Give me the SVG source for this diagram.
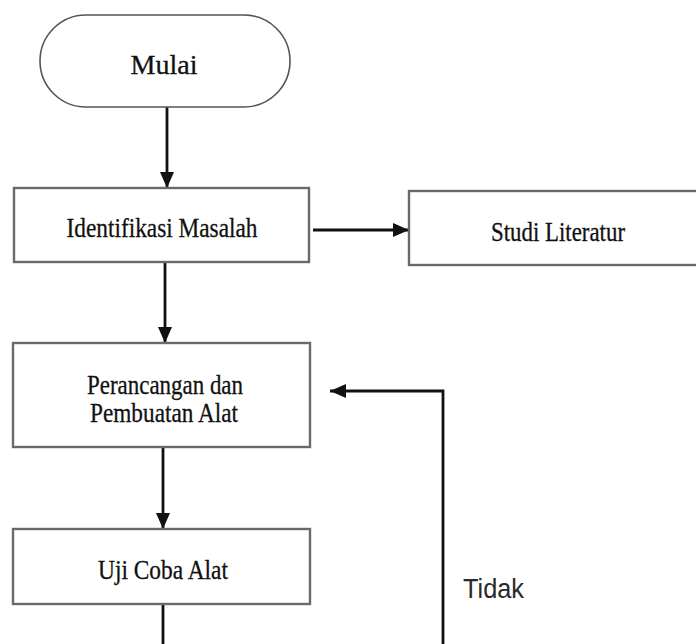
<svg xmlns="http://www.w3.org/2000/svg" width="696" height="644" viewBox="0 0 696 644">
<style>
.box{fill:#fff;stroke:#6a6a6a;stroke-width:2.4}
.term{fill:#fff;stroke:#555;stroke-width:1.6}
.t{font-family:"Liberation Serif","Times New Roman",serif;font-size:28px;fill:#111;stroke:#111;stroke-width:0.3;text-anchor:middle}
.lbl{font-family:"Liberation Sans",Arial,sans-serif;font-size:27px;fill:#2a2a2a}
.c{fill:none;stroke:#111;stroke-width:2.8}
</style>
<defs>
<marker id="ah" markerUnits="userSpaceOnUse" markerWidth="18" markerHeight="16" refX="16" refY="8" orient="auto">
<path d="M0,1 L16,8 L0,15 Z" fill="#111"/>
</marker>
</defs>
<rect width="696" height="644" fill="#fff"/>
<g id="connectors">
<line class="c" x1="167" y1="107" x2="167" y2="188" marker-end="url(#ah)"/>
<line class="c" x1="313" y1="230" x2="409" y2="230" marker-end="url(#ah)"/>
<line class="c" x1="165" y1="262" x2="165" y2="343" marker-end="url(#ah)"/>
<line class="c" x1="163" y1="447" x2="163" y2="529" marker-end="url(#ah)"/>
<line class="c" x1="163" y1="604" x2="163" y2="650"/>
<polyline class="c" points="443,650 443,391 330,391" marker-end="url(#ah)"/>
</g>
<g id="mulai">
<rect class="term" x="40" y="15" width="250" height="92" rx="46" ry="46"/>
<text class="t" x="164" y="74" textLength="67" lengthAdjust="spacingAndGlyphs">Mulai</text>
</g>
<g id="identifikasi">
<rect class="box" x="14" y="188" width="295" height="74"/>
<text class="t" x="162" y="237" textLength="191" lengthAdjust="spacingAndGlyphs">Identifikasi Masalah</text>
</g>
<g id="studi">
<rect class="box" x="409" y="191" width="300" height="74"/>
<text class="t" x="558" y="241" textLength="134" lengthAdjust="spacingAndGlyphs">Studi Literatur</text>
</g>
<g id="perancangan">
<rect class="box" x="13" y="343" width="297" height="104"/>
<text class="t" x="165" y="394" textLength="156" lengthAdjust="spacingAndGlyphs">Perancangan dan</text>
<text class="t" x="164" y="422" textLength="148" lengthAdjust="spacingAndGlyphs">Pembuatan Alat</text>
</g>
<g id="uji">
<rect class="box" x="13" y="529" width="297" height="75"/>
<text class="t" x="163" y="579" textLength="130" lengthAdjust="spacingAndGlyphs">Uji Coba Alat</text>
</g>
<g id="label-tidak">
<text class="lbl" x="463" y="598" textLength="61" lengthAdjust="spacingAndGlyphs">Tidak</text>
</g>
</svg>
